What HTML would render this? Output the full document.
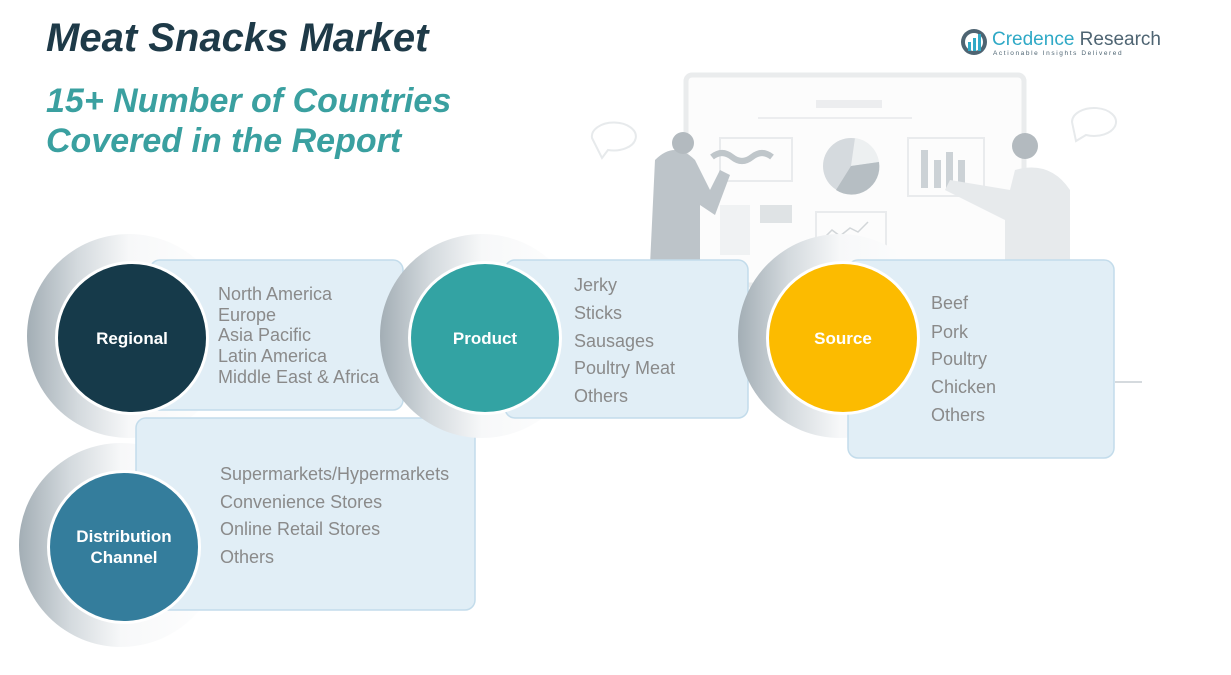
<!DOCTYPE html>
<html><head><meta charset="utf-8"><style>
html,body{margin:0;padding:0;background:#fff}
svg{display:block}
text{font-family:"Liberation Sans",sans-serif}
</style></head><body>
<svg width="1231" height="675" viewBox="0 0 1231 675" xmlns="http://www.w3.org/2000/svg">
<defs>
<linearGradient id="ring" x1="0" y1="0" x2="1" y2="0">
<stop offset="0" stop-color="#a3aeb5"/><stop offset="0.25" stop-color="#d4dade"/><stop offset="0.5" stop-color="#f7f8f9"/><stop offset="1" stop-color="#ffffff"/>
</linearGradient>
</defs>
<!-- background illustration -->
<g opacity="0.75">
<rect x="686" y="75" width="338" height="210" rx="6" fill="#fbfbfb" stroke="#e3e6e8" stroke-width="5"/>
<rect x="816" y="100" width="66" height="8" fill="#e6e8ea"/>
<line x1="758" y1="118" x2="912" y2="118" stroke="#e6e8ea" stroke-width="2"/>
<rect x="720" y="138" width="72" height="43" fill="none" stroke="#e2e5e7" stroke-width="2"/>
<path d="M712 157 q10 -8 20 0 t20 0 t20 0" fill="none" stroke="#aab3b9" stroke-width="6"/>
<circle cx="851" cy="166" r="28" fill="#c8ced3"/>
<path d="M851 166 L855 138 A28 28 0 0 1 879 162 Z" fill="#e8ebed"/>
<path d="M851 166 L879 162 A28 28 0 0 1 836 190 Z" fill="#9ea9b0"/>
<rect x="908" y="138" width="76" height="58" fill="none" stroke="#e2e5e7" stroke-width="2"/>
<rect x="921" y="150" width="7" height="38" fill="#bcc4c9"/><rect x="934" y="160" width="7" height="28" fill="#bcc4c9"/><rect x="946" y="152" width="7" height="36" fill="#bcc4c9"/><rect x="958" y="160" width="7" height="28" fill="#bcc4c9"/>
<rect x="720" y="205" width="30" height="50" fill="#eceef0"/><rect x="760" y="205" width="32" height="18" fill="#d5dadd"/>
<rect x="816" y="212" width="70" height="40" fill="none" stroke="#e2e5e7" stroke-width="2"/>
<path d="M822 240 l10 -10 l8 6 l10 -8 l8 4 l10 -10" fill="none" stroke="#c3c9cd" stroke-width="1.5"/>
<path d="M655 160 q20 -20 40 0 l15 30 l10 -20 l10 5 l-15 40 l-15 -10 l0 60 l-50 0 z" fill="#a7b1b7"/>
<circle cx="683" cy="143" r="11" fill="#9aa4aa"/>
<path d="M1015 170 q35 -10 55 20 l0 70 l-65 0 l0 -40 l-60 -30 l5 -10 l60 10 z" fill="#dfe3e6"/>
<circle cx="1025" cy="146" r="13" fill="#9aa4aa"/>
<path d="M592 138 a22 14 0 1 1 16 12 l-6 8 z" fill="none" stroke="#dfe3e6" stroke-width="2"/>
<path d="M1072 122 a22 14 0 1 1 14 13 l-10 6 z" fill="none" stroke="#dfe3e6" stroke-width="2"/>
<line x1="1115" y1="382" x2="1142" y2="382" stroke="#c8ced3" stroke-width="2"/>
</g>

<!-- titles -->
<text x="46" y="51" font-size="40" font-weight="bold" font-style="italic" fill="#1e3a48">Meat Snacks Market</text>
<text x="46" y="112" font-size="34" font-weight="bold" font-style="italic" fill="#3aa0a0">15+ Number of Countries</text>
<text x="46" y="152" font-size="34" font-weight="bold" font-style="italic" fill="#3aa0a0">Covered in the Report</text>

<!-- logo -->
<circle cx="974" cy="42" r="13" fill="#4e6472"/>
<circle cx="974" cy="42" r="9" fill="#fff"/>
<rect x="968" y="42" width="3" height="9" fill="#2fa9c6"/><rect x="973" y="38" width="3" height="13" fill="#2fa9c6"/><rect x="978" y="34" width="3" height="17" fill="#2fa9c6"/>
<text x="992" y="45" font-size="19" fill="#2fa9c6">Credence <tspan fill="#4e6472">Research</tspan></text>
<text x="993" y="55" font-size="6.5" fill="#4e6472" letter-spacing="1.6">Actionable Insights Delivered</text>

<!-- Regional -->
<circle cx="129" cy="336" r="102" fill="url(#ring)"/>
<rect x="150" y="260" width="253" height="150" rx="10" fill="#e1eef6" stroke="#c3dceb" stroke-width="1.5"/>
<circle cx="132" cy="338" r="77" fill="#fff"/>
<circle cx="132" cy="338" r="74" fill="#163a4a"/>
<text x="132" y="344" font-size="17" font-weight="bold" fill="#fff" text-anchor="middle">Regional</text>
<g font-size="18" fill="#8a8a8a">
<text x="218" y="300">North America</text><text x="218" y="321">Europe</text><text x="218" y="341">Asia Pacific</text><text x="218" y="362">Latin America</text><text x="218" y="383">Middle East &amp; Africa</text>
</g>

<!-- Distribution -->
<circle cx="121" cy="545" r="102" fill="url(#ring)"/>
<rect x="136" y="418" width="339" height="192" rx="10" fill="#e1eef6" stroke="#c3dceb" stroke-width="1.5"/>
<circle cx="124" cy="547" r="77" fill="#fff"/>
<circle cx="124" cy="547" r="74" fill="#347d9c"/>
<text x="124" y="542" font-size="17" font-weight="bold" fill="#fff" text-anchor="middle">Distribution</text>
<text x="124" y="563" font-size="17" font-weight="bold" fill="#fff" text-anchor="middle">Channel</text>
<g font-size="18" fill="#8a8a8a">
<text x="220" y="480">Supermarkets/Hypermarkets</text><text x="220" y="508">Convenience Stores</text><text x="220" y="535">Online Retail Stores</text><text x="220" y="563">Others</text>
</g>

<!-- Product -->
<circle cx="482" cy="336" r="102" fill="url(#ring)"/>
<rect x="505" y="260" width="243" height="158" rx="10" fill="#e1eef6" stroke="#c3dceb" stroke-width="1.5"/>
<circle cx="485" cy="338" r="77" fill="#fff"/>
<circle cx="485" cy="338" r="74" fill="#33a3a3"/>
<text x="485" y="344" font-size="17" font-weight="bold" fill="#fff" text-anchor="middle">Product</text>
<g font-size="18" fill="#8a8a8a">
<text x="574" y="291">Jerky</text><text x="574" y="319">Sticks</text><text x="574" y="347">Sausages</text><text x="574" y="374">Poultry Meat</text><text x="574" y="402">Others</text>
</g>

<!-- Source -->
<circle cx="840" cy="336" r="102" fill="url(#ring)"/>
<rect x="848" y="260" width="266" height="198" rx="10" fill="#e1eef6" stroke="#c3dceb" stroke-width="1.5"/>
<circle cx="843" cy="338" r="77" fill="#fff"/>
<circle cx="843" cy="338" r="74" fill="#fcbb00"/>
<text x="843" y="344" font-size="17" font-weight="bold" fill="#fff" text-anchor="middle">Source</text>
<g font-size="18" fill="#8a8a8a">
<text x="931" y="309">Beef</text><text x="931" y="338">Pork</text><text x="931" y="365">Poultry</text><text x="931" y="393">Chicken</text><text x="931" y="421">Others</text>
</g>
</svg>
</body></html>
